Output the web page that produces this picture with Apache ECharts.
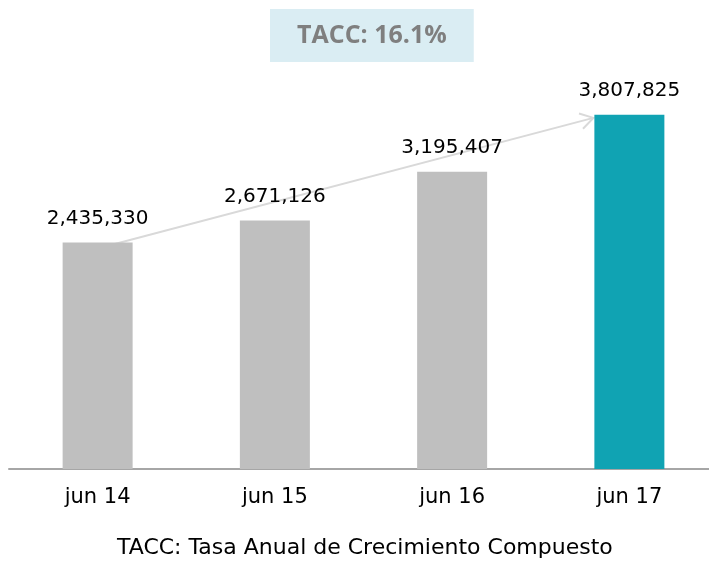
<!DOCTYPE html>
<html lang="en">
<head>
<meta charset="UTF-8">
<style>
  html, body { height: 100%; margin: 0; background: #fff; overflow: hidden; }
</style>
</head>
<body>
<div id="chart" style="width:718px;height:567px;"></div>
<script src="https://cdn.jsdelivr.net/npm/echarts@6/dist/echarts.min.js"></script>
<script>
    var categories = ['jun 14', 'jun 15', 'jun 16', 'jun 17'];
    var values = [2435330, 2671126, 3195407, 3807825];
    var barColors = ['#bfbfbf', '#bfbfbf', '#bfbfbf', '#10a3b3'];
    var headline = 'TACC: 16.1%';
    var footnote = 'TACC: Tasa Anual de Crecimiento Compuesto';

    var font = 'DejaVu Sans';
    var myChart = echarts.init(document.getElementById('chart'));

    myChart.setOption({
        animation: false,
        title: [{
            text: headline,
            left: 270,
            top: 9,
            backgroundColor: '#daedf3',
            padding: [14, 27, 14, 27],
            textStyle: { fontFamily: 'Open Sans', fontSize: 25, fontWeight: 'bold', color: '#7f7f7f' }
        }, {
            text: footnote,
            left: 117,
            top: 537,
            padding: 0,
            textStyle: { fontFamily: font, fontSize: 22, fontWeight: 'normal', color: '#000' }
        }],
        grid: { left: 9, right: 0, top: 97, bottom: 98, containLabel: false },
        xAxis: {
            type: 'category',
            data: categories,
            axisTick: { show: false },
            axisLine: { lineStyle: { color: '#a6a6a6', width: 2 } },
            axisLabel: { fontFamily: font, fontSize: 21, color: '#000', margin: 18 }
        },
        yAxis: {
            type: 'value',
            min: 0,
            max: 4000000,
            show: false,
            splitLine: { show: false }
        },
        series: [{
            type: 'bar',
            barWidth: 70,
            data: values.map(function (v, i) {
                return { value: v, itemStyle: { color: barColors[i] } };
            }),
            label: {
                show: true,
                position: 'top',
                distance: 14,
                fontFamily: font,
                fontSize: 20,
                color: '#000',
                formatter: function (p) { return p.value.toLocaleString('en-US'); }
            },
            z: 3
        }]
    });

    // growth arrow, anchored to the first and last bar tops
    var p0 = myChart.convertToPixel({ seriesIndex: 0 }, [0, values[0]]);
    var p1 = myChart.convertToPixel({ seriesIndex: 0 }, [3, values[3]]);
    var a = [p0[0], p0[1] + 6];
    var b = [p1[0] - 36, p1[1] + 3];
    var ang = Math.atan2(b[1] - a[1], b[0] - a[0]);
    var L = 15, spread = 0.55;
    var h1 = [b[0] - L * Math.cos(ang - spread), b[1] - L * Math.sin(ang - spread)];
    var h2 = [b[0] - L * Math.cos(ang + spread), b[1] - L * Math.sin(ang + spread)];
    var arrowStyle = { stroke: '#d9d9d9', lineWidth: 2, fill: null };

    myChart.setOption({
        graphic: [{
            type: 'line', z: 2,
            shape: { x1: a[0], y1: a[1], x2: b[0], y2: b[1] },
            style: arrowStyle
        }, {
            type: 'polyline', z: 2,
            shape: { points: [h1, b, h2] },
            style: arrowStyle
        }]
    });
</script>
</body>
</html>
